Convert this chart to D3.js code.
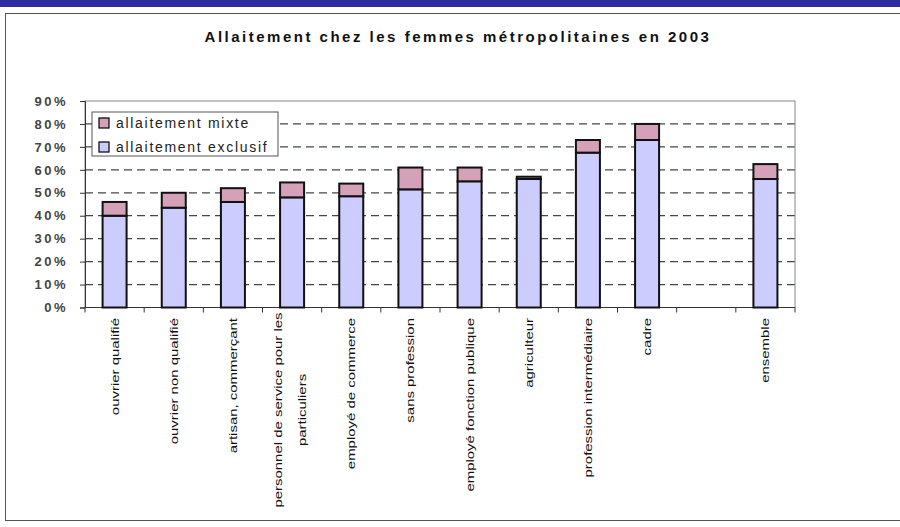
<!DOCTYPE html>
<html><head><meta charset="utf-8">
<script src="https://cdn.jsdelivr.net/npm/d3@7"></script>
<style>body{margin:0;background:#fff}svg{display:block}</style>
</head><body>
<script>
const categories = ["ouvrier qualifié","ouvrier non qualifié","artisan, commerçant","personnel de service pour les|particuliers","employé de commerce","sans profession","employé fonction publique","agriculteur","profession intermédiaire","cadre","","ensemble"];
const exclusif = [40, 43.5, 46, 48, 48.5, 51.5, 55, 56, 67.5, 73, null, 56];
const mixte    = [6, 6.5, 6, 6.5, 5.5, 9.5, 6, 1, 5.5, 7, null, 6.5];
const yTicks = [0,10,20,30,40,50,60,70,80,90];
const seriesNames = ["allaitement mixte","allaitement exclusif"];

const W=900,H=527;
const FF="Liberation Sans, Arial, sans-serif";
const svg=d3.select("body").append("svg").attr("width",W).attr("height",H);
svg.append("rect").attr("x",0).attr("y",0).attr("width",W).attr("height",7).attr("fill","#2b2ba3");
svg.append("rect").attr("x",5.5).attr("y",13.5).attr("width",900).attr("height",507).attr("fill","#fff").attr("stroke","#555").attr("stroke-width",1);
svg.append("text").attr("x",458).attr("y",42).attr("text-anchor","middle")
  .attr("font-family",FF).attr("font-weight","bold").attr("font-size",15).attr("letter-spacing",2.5).attr("fill","#111")
  .text("Allaitement chez les femmes métropolitaines en 2003");

const L=85,R=795,T=101,B=307.5;
const x=d3.scaleBand().domain(d3.range(categories.length)).range([L,R]).paddingInner(0).paddingOuter(0);
const y=d3.scaleLinear().domain([0,90]).range([B,T]);
const g=svg.append("g");
// grid
g.selectAll("line.grid").data(yTicks.filter(t=>t>0&&t<90)).enter().append("line")
  .attr("x1",L).attr("x2",R).attr("y1",d=>y(d)).attr("y2",d=>y(d))
  .attr("stroke","#3f4a4a").attr("stroke-width",1.3).attr("stroke-dasharray","8,5");
// plot frame
g.append("rect").attr("x",L).attr("y",T).attr("width",R-L).attr("height",B-T).attr("fill","none").attr("stroke","#888").attr("stroke-width",1);
// y axis
const yAxis=d3.axisLeft(y).tickValues(yTicks).tickFormat(d=>d+"%").tickSize(5).tickPadding(12);
const ya=svg.append("g").attr("transform",`translate(${L},0)`).call(yAxis);
ya.select(".domain").attr("stroke","#333");
ya.selectAll(".tick line").attr("stroke","#333");
ya.selectAll("text").attr("font-family",FF).attr("font-size",13).attr("font-weight","bold").attr("letter-spacing",2.5).attr("fill","#444");
// x axis line + ticks at boundaries
svg.append("line").attr("x1",L).attr("x2",R).attr("y1",B).attr("y2",B).attr("stroke","#333");
svg.selectAll("line.xt").data(d3.range(categories.length+1)).enter().append("line")
  .attr("x1",i=>L+i*x.step()).attr("x2",i=>L+i*x.step()).attr("y1",B).attr("y2",B+5).attr("stroke","#333");
// bars
const bw=24;
const data=categories.map((c,i)=>({i,c,e:exclusif[i],m:mixte[i]})).filter(d=>d.e!=null);
const bars=svg.append("g").selectAll("g").data(data).enter().append("g");
bars.append("rect").attr("x",d=>x(d.i)+x.bandwidth()/2-bw/2).attr("width",bw)
  .attr("y",d=>y(d.e)).attr("height",d=>y(0)-y(d.e)).attr("fill","#ccccff").attr("stroke","#111").attr("stroke-width",2);
bars.append("rect").attr("x",d=>x(d.i)+x.bandwidth()/2-bw/2).attr("width",bw)
  .attr("y",d=>y(d.e+d.m)).attr("height",d=>y(d.e)-y(d.e+d.m)).attr("fill","#d4a1b9").attr("stroke","#111").attr("stroke-width",2);
// x labels
categories.forEach((c,i)=>{
  if(!c) return;
  const cx=x(i)+x.bandwidth()/2;
  const lines=c.split("|");
  if(lines.length===1){
    svg.append("text").attr("font-family",FF).attr("font-size",11.5).attr("fill","#111")
      .attr("transform",`translate(${cx+4},318) rotate(-90) scale(1.3,1)`).attr("text-anchor","end").text(c);
  } else {
    const mid=410;
    const offs=[-14,10];
    lines.forEach((ln,k)=>{
      svg.append("text").attr("font-family",FF).attr("font-size",11.5).attr("fill","#111")
        .attr("transform",`translate(${cx+offs[k]+4},${mid}) rotate(-90) scale(1.3,1)`).attr("text-anchor","middle").text(ln);
    });
  }
});
// legend
const lg=svg.append("g");
lg.append("rect").attr("x",92).attr("y",112).attr("width",186).attr("height",44).attr("fill","#fff").attr("stroke","#555");
const lcol=["#d4a1b9","#ccccff"];
seriesNames.forEach((n,k)=>{
  const yy=123+k*24;
  lg.append("rect").attr("x",99).attr("y",yy-5).attr("width",10).attr("height",10).attr("fill",lcol[k]).attr("stroke","#111").attr("stroke-width",1.3);
  lg.append("text").attr("x",116).attr("y",yy+5).attr("font-family",FF).attr("font-size",14).attr("letter-spacing",1.7).attr("fill","#222").text(n);
});
</script>
</body></html>
